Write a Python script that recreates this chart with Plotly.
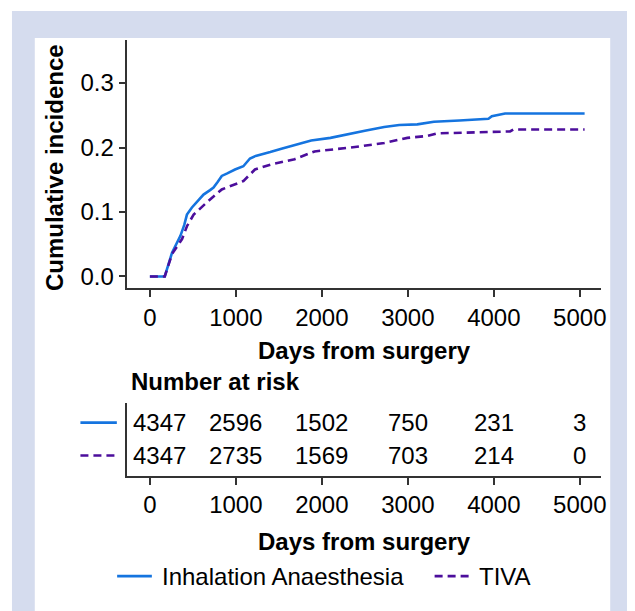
import plotly.graph_objects as go

# ---- data ----
days_inh = [0, 173, 258, 300, 355, 400, 431, 489, 560, 624, 700, 740, 790, 836, 900, 990,
            1087, 1130, 1164, 1230, 1298, 1400, 1530, 1700, 1876, 2100, 2339, 2500, 2725,
            2900, 3110, 3303, 3600, 3938, 3977, 4131, 5056]
cif_inh = [0, 0, 0.037, 0.048, 0.063, 0.080, 0.096, 0.107, 0.118, 0.127, 0.134, 0.138, 0.147,
           0.156, 0.160, 0.166, 0.171, 0.178, 0.183, 0.187, 0.189, 0.193, 0.198, 0.204, 0.211,
           0.215, 0.222, 0.226, 0.232, 0.235, 0.236, 0.240, 0.242, 0.2446, 0.2486, 0.2528, 0.2528]

days_tiva = [0, 173, 258, 374, 431, 509, 663, 836, 1087, 1222, 1414, 1684, 1915, 2339, 2725,
             2994, 3224, 3341, 4189, 4227, 5056]
cif_tiva = [0, 0, 0.035, 0.058, 0.078, 0.096, 0.115, 0.135, 0.148, 0.166, 0.174, 0.182, 0.194,
            0.200, 0.207, 0.215, 0.218, 0.222, 0.225, 0.228, 0.228]

risk_times = [0, 1000, 2000, 3000, 4000, 5000]
risk_inh = [4347, 2596, 1502, 750, 231, 3]
risk_tiva = [4347, 2735, 1569, 703, 214, 0]

series_names = ["Inhalation Anaesthesia", "TIVA"]
x_ticks = [0, 1000, 2000, 3000, 4000, 5000]
y_ticks = [0.0, 0.1, 0.2, 0.3]

# ---- style ----
W, H = 635, 611
OFF = 8  # page body margin
BLUE = "#1574DF"
PURPLE = "#4C0E9C"
AX = "#333333"
FONT = "Liberation Sans, Arial, sans-serif"
FS = 24
DASH = "8px,5px"

def px(x):
    return (x - OFF) / W

def py(y):
    return 1 - (y - OFF) / H

fig = go.Figure()

fig.add_trace(go.Scatter(x=days_inh, y=cif_inh, mode="lines", name=series_names[0],
                         line=dict(color=BLUE, width=2.6), xaxis="x", yaxis="y"))
fig.add_trace(go.Scatter(x=days_tiva, y=cif_tiva, mode="lines", name=series_names[1],
                         line=dict(color=PURPLE, width=2.6, dash=DASH), xaxis="x", yaxis="y"))

# invisible trace to establish the risk-table axes
fig.add_trace(go.Scatter(x=risk_times, y=[1] * len(risk_times), mode="markers",
                         marker=dict(opacity=0), showlegend=False, hoverinfo="skip",
                         xaxis="x2", yaxis="y2"))

tf = dict(size=FS, color="black", family=FONT)

annotations = []
for i, (t, a, b) in enumerate(zip(risk_times, risk_inh, risk_tiva)):
    shift = 9.5 if i == 0 else 0
    annotations.append(dict(x=t, y=2, xref="x2", yref="y2", text=str(a), showarrow=False,
                            xanchor="center", yanchor="middle", xshift=shift, font=tf))
    annotations.append(dict(x=t, y=1, xref="x2", yref="y2", text=str(b), showarrow=False,
                            xanchor="center", yanchor="middle", xshift=shift, font=tf))

annotations += [
    dict(x=px(367), y=py(352), xref="paper", yref="paper", text="<b>Days from surgery</b>",
         xanchor="center", yanchor="middle", showarrow=False, font=tf),
    dict(x=px(367), y=py(543), xref="paper", yref="paper", text="<b>Days from surgery</b>",
         xanchor="center", yanchor="middle", showarrow=False, font=tf),
    dict(x=px(130), y=py(383), xref="paper", yref="paper", text="<b>Number at risk</b>",
         xanchor="left", yanchor="middle", showarrow=False, font=tf),
    dict(x=px(55), y=py(168), xref="paper", yref="paper", text="<b>Cumulative incidence</b>",
         xanchor="center", yanchor="middle", textangle=-90, showarrow=False, font=tf),
    # bottom legend texts
    dict(x=px(161), y=py(578), xref="paper", yref="paper", text=series_names[0],
         xanchor="left", yanchor="middle", showarrow=False, font=tf),
    dict(x=px(481), y=py(578), xref="paper", yref="paper", text=series_names[1],
         xanchor="left", yanchor="middle", showarrow=False, font=tf),
]

shapes = [
    dict(type="rect", xref="paper", yref="paper", x0=px(12), x1=1.0, y0=0, y1=py(11),
         fillcolor="#d5dcee", line=dict(width=0), layer="below"),
    dict(type="rect", xref="paper", yref="paper", x0=px(35), x1=px(615), y0=0, y1=py(38),
         fillcolor="white", line=dict(width=0), layer="below"),
    # risk-table row keys
    dict(type="line", xref="paper", yref="y2", x0=px(81), x1=px(117.7), y0=2, y1=2,
         line=dict(color=BLUE, width=2.6)),
    dict(type="line", xref="paper", yref="y2", x0=px(81), x1=px(117.7), y0=1, y1=1,
         line=dict(color=PURPLE, width=2.6, dash=DASH)),
    # bottom legend keys
    dict(type="line", xref="paper", yref="paper", x0=px(118), x1=px(153), y0=py(578), y1=py(578),
         line=dict(color=BLUE, width=2.6)),
    dict(type="line", xref="paper", yref="paper", x0=px(438), x1=px(473), y0=py(578), y1=py(578),
         line=dict(color=PURPLE, width=2.6, dash=DASH)),
]

xdom = [px(128.3), px(606)]
axis_common = dict(showline=True, linecolor=AX, linewidth=1.5, ticks="outside", ticklen=7,
                   tickwidth=1.5, tickcolor=AX, showgrid=False, zeroline=False,
                   tickfont=tf)

fig.update_layout(
    width=W, height=H,
    margin=dict(l=0, r=0, t=0, b=0),
    paper_bgcolor="white", plot_bgcolor="rgba(0,0,0,0)",
    font=dict(family=FONT, size=FS, color="black"),
    xaxis=dict(domain=xdom, range=[-262, 5250], tickvals=x_ticks, anchor="y", **axis_common),
    yaxis=dict(domain=[py(289), py(40)], range=[-0.018, 0.367], tickvals=y_ticks,
               tickformat=".1f", anchor="x", **axis_common),
    xaxis2=dict(domain=xdom, range=[-262, 5250], tickvals=x_ticks, anchor="y2", **axis_common),
    yaxis2=dict(domain=[py(477.3), py(404)], range=[0.384, 2.606], anchor="x2",
                showline=True, linecolor=AX, linewidth=1.5, showticklabels=False,
                ticks="", showgrid=False, zeroline=False),
    showlegend=False,
    annotations=annotations,
    shapes=shapes,
)

fig.write_html("out.html")
